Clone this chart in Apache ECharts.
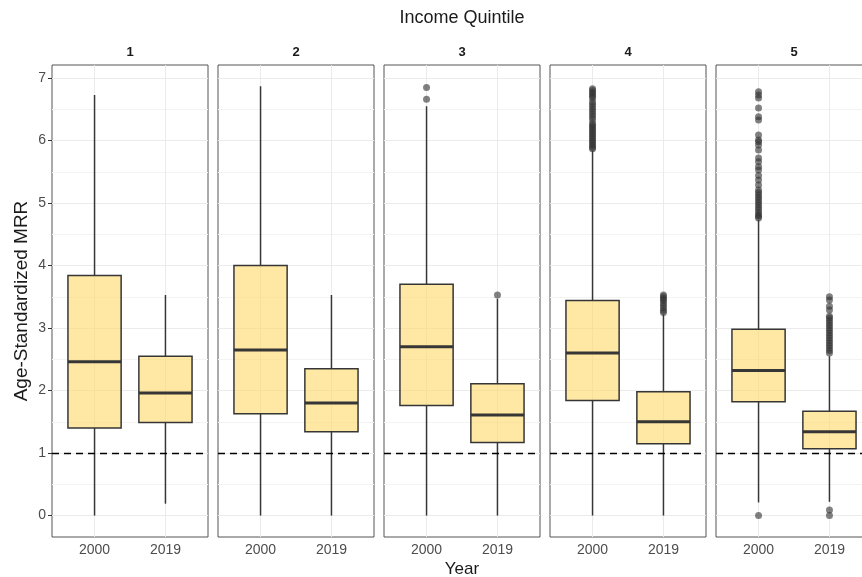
<!DOCTYPE html>
<html>
<head>
<meta charset="utf-8">
<script src="https://cdn.jsdelivr.net/npm/echarts@6/dist/echarts.min.js"></script>
<style>
html,body{margin:0;padding:0;background:#fff;}
#chart{width:862px;height:577px;}
</style>
</head>
<body>
<div id="chart"></div>
<script>
// ---------------- data ----------------
const quintiles = ['1', '2', '3', '4', '5'];
const years = ['2000', '2019'];
const yTicks = [0, 1, 2, 3, 4, 5, 6, 7];
// box stats per quintile: [lower whisker, Q1, median, Q3, upper whisker]
const box2000 = [
  [0.00, 1.40, 2.46, 3.84, 6.73],
  [0.00, 1.63, 2.65, 4.00, 6.87],
  [0.00, 1.76, 2.70, 3.70, 6.55],
  [0.00, 1.84, 2.60, 3.44, 5.84],
  [0.21, 1.82, 2.32, 2.98, 4.73]
];
const box2019 = [
  [0.19, 1.49, 1.96, 2.55, 3.53],
  [0.00, 1.34, 1.80, 2.35, 3.53],
  [0.00, 1.17, 1.61, 2.11, 3.47],
  [0.00, 1.15, 1.50, 1.98, 3.22],
  [0.22, 1.07, 1.34, 1.67, 2.55]
];
// outliers per quintile
const out2000 = [
  [],
  [],
  [6.85, 6.66],
  [6.83, 6.80, 6.77, 6.74, 6.71, 6.68, 6.62, 6.58, 6.54, 6.50, 6.46, 6.42, 6.38, 6.34, 6.28,
   6.25, 6.22, 6.19, 6.16, 6.13, 6.10, 6.07, 6.04, 6.01, 5.98, 5.95, 5.92, 5.89, 5.87],
  [6.78, 6.73, 6.68, 6.52, 6.38, 6.33, 6.09, 6.01, 5.98, 5.93, 5.85, 5.72, 5.66, 5.58, 5.53,
   5.44, 5.37, 5.29, 5.21, 5.17, 5.13, 5.09, 5.05, 5.01, 4.97, 4.93, 4.89, 4.85, 4.81, 4.79, 4.76, 0.00]
];
const out2019 = [
  [],
  [],
  [3.53],
  [3.53, 3.50, 3.47, 3.44, 3.40, 3.36, 3.32, 3.28, 3.25],
  [3.50, 3.45, 3.35, 3.29, 3.19, 3.16, 3.12, 3.08, 3.04, 3.00, 2.96, 2.92, 2.88, 2.84, 2.80,
   2.76, 2.72, 2.68, 2.64, 2.60, 0.09, 0.00]
];
const refValue = 1;

// ---------------- layout ----------------
const FONT = 'Liberation Sans, Arial, Helvetica, sans-serif';
const panelLeft0 = 52, panelStep = 166, panelW = 156, panelTop = 65, panelH = 472;
const yMin = -0.343, yMax = 7.21;

const grids = [], xAxes = [], yAxes = [], series = [], graphics = [];

function renderBox(params, api) {
  const x = api.value(0);
  const lo = api.coord([x, api.value(1)]);
  const q1 = api.coord([x, api.value(2)]);
  const md = api.coord([x, api.value(3)]);
  const q3 = api.coord([x, api.value(4)]);
  const hi = api.coord([x, api.value(5)]);
  const w = api.size([0.75, 0])[0];
  const h = w / 2;
  const stroke = '#363636';
  return {
    type: 'group',
    children: [
      { type: 'line', shape: { x1: lo[0], y1: lo[1], x2: q1[0], y2: q1[1] }, style: { stroke: stroke, lineWidth: 1.5 } },
      { type: 'line', shape: { x1: q3[0], y1: q3[1], x2: hi[0], y2: hi[1] }, style: { stroke: stroke, lineWidth: 1.5 } },
      { type: 'rect', shape: { x: q3[0] - h, y: q3[1], width: w, height: q1[1] - q3[1] },
        style: { fill: 'rgba(255,214,98,0.58)', stroke: stroke, lineWidth: 1.5 } },
      { type: 'line', shape: { x1: md[0] - h, y1: md[1], x2: md[0] + h, y2: md[1] }, style: { stroke: stroke, lineWidth: 3 } }
    ]
  };
}

const gridLines = [];
yTicks.forEach(v => gridLines.push({ yAxis: v, lineStyle: { color: '#ebebeb', width: 1, type: 'solid' } }));
for (let v = 0.5; v < 7; v += 1) gridLines.push({ yAxis: v, lineStyle: { color: '#f3f3f3', width: 1, type: 'solid' } });
[1, 2].forEach(v => gridLines.push({ xAxis: v, lineStyle: { color: '#ebebeb', width: 1, type: 'solid' } }));

quintiles.forEach((q, i) => {
  const left = panelLeft0 + panelStep * i;
  grids.push({ left: left, top: panelTop, width: panelW, height: panelH, show: true,
               outerBoundsMode: 'none', containLabel: false,
               borderColor: '#555', borderWidth: 1, backgroundColor: 'transparent' });
  xAxes.push({
    type: 'value', gridIndex: i, min: 0.4, max: 2.6,
    axisLine: { show: false },
    axisTick: { show: true, customValues: [1, 2], length: 4, lineStyle: { color: '#333', width: 1 } },
    axisLabel: { show: true, customValues: [1, 2], formatter: v => years[Math.round(v) - 1] || '',
                 color: '#4d4d4d', fontSize: 14, fontFamily: FONT, margin: 6 },
    splitLine: { show: false }
  });
  yAxes.push({
    type: 'value', gridIndex: i, min: yMin, max: yMax,
    axisLine: { show: false },
    axisTick: { show: i === 0, customValues: yTicks, length: 4, lineStyle: { color: '#333', width: 1 } },
    axisLabel: { show: i === 0, customValues: yTicks, color: '#4d4d4d', fontSize: 14, fontFamily: FONT, margin: 6 },
    splitLine: { show: false }
  });
  const boxData = [[1].concat(box2000[i]), [2].concat(box2019[i])];
  series.push({
    type: 'custom', xAxisIndex: i, yAxisIndex: i, z: 3,
    encode: { x: 0, y: [1, 2, 3, 4, 5] },
    renderItem: renderBox,
    data: boxData,
    silent: true,
    markLine: { silent: true, symbol: 'none', z: 1, label: { show: false }, animation: false, data: gridLines }
  });
  const pts = out2000[i].map(v => [1, v]).concat(out2019[i].map(v => [2, v]));
  series.push({
    type: 'scatter', xAxisIndex: i, yAxisIndex: i, z: 4,
    symbol: 'circle', symbolSize: 7,
    itemStyle: { color: '#333333', opacity: 0.62 },
    data: pts,
    silent: true,
    markLine: { silent: true, symbol: 'none', z: 10, label: { show: false }, animation: false,
                data: [{ yAxis: refValue, lineStyle: { color: '#000', width: 1.4, type: [7, 5] } }] }
  });
  graphics.push({ type: 'text', x: left + panelW / 2, y: 52,
    style: { text: q, fontSize: 13, fontWeight: 'bold', fill: '#1a1a1a', fontFamily: FONT, align: 'center', verticalAlign: 'middle' } });
});

graphics.push({ type: 'text', x: 462, y: 18,
  style: { text: 'Income Quintile', fontSize: 18, fill: '#1a1a1a', fontFamily: FONT, align: 'center', verticalAlign: 'middle' } });
graphics.push({ type: 'text', x: 462, y: 569,
  style: { text: 'Year', fontSize: 17, fill: '#1a1a1a', fontFamily: FONT, align: 'center', verticalAlign: 'middle' } });
graphics.push({ type: 'text', x: 22, y: 301, rotation: Math.PI / 2,
  style: { text: 'Age-Standardized MRR', fontSize: 19, fill: '#1a1a1a', fontFamily: FONT, align: 'center', verticalAlign: 'middle' } });

const chart = echarts.init(document.getElementById('chart'), null, { renderer: 'canvas' });
chart.setOption({
  animation: false,
  backgroundColor: '#ffffff',
  grid: grids,
  xAxis: xAxes,
  yAxis: yAxes,
  series: series,
  graphic: graphics
});
</script>
</body>
</html>
